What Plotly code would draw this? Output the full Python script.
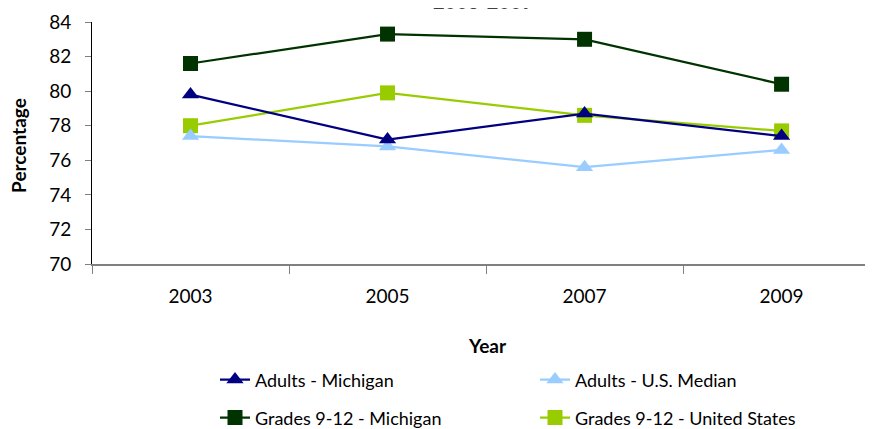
import plotly.graph_objects as go

years = ["2003", "2005", "2007", "2009"]
adults_mi = [79.8, 77.2, 78.7, 77.4]
adults_us = [77.4, 76.8, 75.6, 76.6]
grades_mi = [81.6, 83.3, 83.0, 80.4]
grades_us = [78.0, 79.9, 78.6, 77.7]

font = "Lato"

fig = go.Figure()
fig.add_trace(go.Scatter(x=years, y=grades_mi, name="Grades 9-12 - Michigan", legend="legend2",
                         line=dict(color="#003300", width=2.25),
                         marker=dict(symbol="square", size=15, color="#003300")))
fig.add_trace(go.Scatter(x=years, y=grades_us, name="Grades 9-12 - United States", legend="legend2",
                         line=dict(color="#99CC00", width=2.25),
                         marker=dict(symbol="square", size=15, color="#99CC00")))
fig.add_trace(go.Scatter(x=years, y=adults_us, name="Adults - U.S. Median",
                         line=dict(color="#99CCFF", width=2.25),
                         marker=dict(symbol="triangle-up", size=15, color="#99CCFF")))
fig.add_trace(go.Scatter(x=years, y=adults_mi, name="Adults - Michigan",
                         line=dict(color="#000080", width=2.25),
                         marker=dict(symbol="triangle-up", size=15, color="#000080")))

leg = dict(orientation="h", xanchor="left", yanchor="middle", entrywidth=275,
           traceorder="reversed", font=dict(family=font, size=18, color="black"),
           bgcolor="rgba(0,0,0,0)")
# page has an 8px body margin; figure runs past the window edge like the original
fig.update_layout(
    width=865, height=421,
    margin=dict(l=84, r=0, t=14, b=165, autoexpand=False),
    plot_bgcolor="white", paper_bgcolor="white",
    font=dict(family=font, size=18, color="black"),
    showlegend=True,
    legend=dict(leg, x=0.1575, y=-0.479),
    legend2=dict(leg, x=0.1575, y=-0.636, traceorder="normal"),
    xaxis=dict(type="category", range=[-0.5, 3.464], showline=True, linecolor="#808080",
               linewidth=1.5, ticks="outside", tickson="boundaries", ticklen=8,
               tickcolor="#808080", showgrid=False, tickfont=dict(size=19),
               ticklabelstandoff=14, automargin=False),
    yaxis=dict(range=[70, 84], dtick=2, showline=True, linecolor="black", linewidth=1,
               ticks="outside", ticklen=6, tickcolor="#808080", showgrid=False,
               zeroline=False, tickfont=dict(size=19), ticklabelstandoff=10,
               automargin=False),
)
fig.add_annotation(text="<b>2003-2009</b>", xref="paper", yref="paper", x=0.5, y=1.03,
                   yanchor="bottom", showarrow=False, font=dict(size=20, color="#404040"))
fig.add_annotation(text="<b>Year</b>", xref="paper", yref="paper", x=0.507, y=-0.335,
                   yanchor="middle", showarrow=False, font=dict(size=19))
fig.add_annotation(text="<b>Percentage</b>", xref="paper", yref="paper", x=-0.0935, y=0.492,
                   xanchor="center", yanchor="middle", textangle=-90, showarrow=False,
                   font=dict(size=19))

fig.write_html("out.html")
